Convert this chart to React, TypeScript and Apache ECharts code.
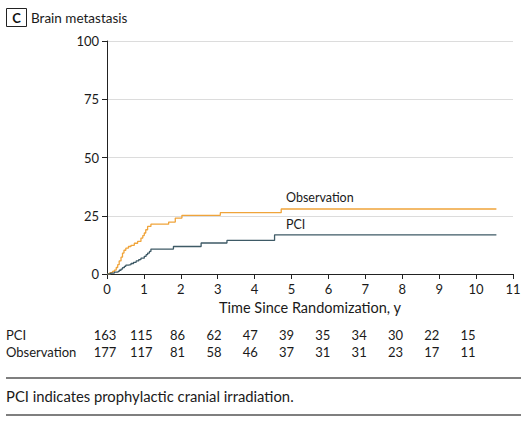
import React, { useEffect, useRef } from "react";
import * as echarts from "echarts";

const xTicks = [0, 1, 2, 3, 4, 5, 6, 7, 8, 9, 10, 11];
const obsT = [0, 0.08, 0.15, 0.2, 0.25, 0.29, 0.33, 0.38, 0.42, 0.46, 0.51, 0.58, 0.65, 0.74, 0.83, 0.92, 0.97, 1.01, 1.05, 1.1, 1.19, 1.67, 1.85, 2.03, 3.07, 4.72, 10.55];
const obsV = [0, 0.6, 1.1, 1.7, 2.8, 4.0, 5.6, 7.2, 9.0, 10.2, 11.1, 11.8, 12.3, 13.2, 14.0, 15.4, 16.5, 17.6, 19.0, 20.4, 21.4, 22.3, 24.0, 25.2, 26.3, 27.9, 27.9];
const pciT = [0, 0.1, 0.2, 0.28, 0.33, 0.38, 0.42, 0.47, 0.51, 0.58, 0.65, 0.72, 0.79, 0.86, 0.92, 1.01, 1.06, 1.1, 1.15, 1.19, 1.8, 2.55, 3.25, 4.54, 10.55];
const pciV = [0, 0.4, 0.8, 1.1, 1.6, 2.1, 2.7, 3.3, 3.8, 4.0, 4.5, 5.0, 5.6, 6.2, 6.8, 7.6, 8.3, 9.0, 9.7, 10.7, 11.8, 13.3, 14.4, 16.8, 16.8];
const riskTimes = [0, 1, 2, 3, 4, 5, 6, 7, 8, 9, 10];
const riskPCI = [163, 115, 86, 62, 47, 39, 35, 34, 30, 22, 15];
const riskObs = [177, 117, 81, 58, 46, 37, 31, 31, 23, 17, 11];
const seriesNames = ["Observation", "PCI"];
const title = "Brain metastasis";
const panel = "C";
const xName = "Time Since Randomization, y";
const footnote = "PCI indicates prophylactic cranial irradiation.";

const FONT = "Lato, 'Open Sans', sans-serif";
const OBS_COLOR = "#f0a43a";
const PCI_COLOR = "#3e5a66";
const TEXT = "#1a1a1a";

export default function App() {
  const ref = useRef<HTMLDivElement>(null);
  useEffect(() => {
    document.body.style.margin = "0";
    const chart = echarts.init(ref.current!, null, { renderer: "svg" });
    chart.setOption({
      animation: false,
      textStyle: { fontFamily: FONT },
      grid: { left: 107, right: 18, top: 41, bottom: 156 },
      xAxis: {
        type: "value",
        min: 0,
        max: 11,
        interval: 1,
        name: xName,
        nameLocation: "middle",
        nameGap: 26,
        nameTextStyle: { fontSize: 14.5, color: TEXT, fontFamily: FONT },
        axisLine: { lineStyle: { color: "#222", width: 1 } },
        axisTick: { length: 5, lineStyle: { color: "#222" } },
        axisLabel: { fontSize: 13, color: TEXT, margin: 8, fontFamily: FONT },
        splitLine: { show: false },
      },
      yAxis: {
        type: "value",
        min: 0,
        max: 100,
        interval: 25,
        axisLine: { show: true, lineStyle: { color: "#222", width: 1 } },
        axisTick: { show: true, length: 5, lineStyle: { color: "#222" } },
        axisLabel: { fontSize: 13, color: TEXT, margin: 8, fontFamily: FONT },
        splitLine: { show: true, lineStyle: { color: "#dcdcdc", width: 1 } },
      },
      series: [
        {
          name: seriesNames[0],
          type: "line",
          step: "end",
          symbol: "none",
          lineStyle: { color: OBS_COLOR, width: 1.3 },
          data: obsT.map((t, i) => [t, obsV[i]]),
          z: 3,
        },
        {
          name: seriesNames[1],
          type: "line",
          step: "end",
          symbol: "none",
          lineStyle: { color: PCI_COLOR, width: 1.3 },
          data: pciT.map((t, i) => [t, pciV[i]]),
          z: 3,
        },
      ],
    });

    const px = (x: number, y: number) => chart.convertToPixel({ gridIndex: 0 }, [x, y]) as number[];
    const graphic: any[] = [];
    graphic.push({
      type: "rect",
      shape: { x: 6.5, y: 8.5, width: 20, height: 18 },
      style: { fill: "#fff", stroke: "#222", lineWidth: 1 },
    });
    graphic.push({
      type: "text",
      x: 16.5,
      y: 18,
      style: { text: panel, font: `bold 13px ${FONT}`, fill: "#111", align: "center", verticalAlign: "middle" },
    });
    graphic.push({
      type: "text",
      x: 31,
      y: 17.5,
      style: { text: title, font: `13.5px ${FONT}`, fill: TEXT, align: "left", verticalAlign: "middle" },
    });
    const obsLab = px(4.85, 32.7);
    const pciLab = px(4.85, 21.1);
    graphic.push({
      type: "text",
      x: obsLab[0],
      y: obsLab[1],
      style: { text: seriesNames[0], font: `12.5px ${FONT}`, fill: TEXT, align: "left", verticalAlign: "middle" },
    });
    graphic.push({
      type: "text",
      x: pciLab[0],
      y: pciLab[1],
      style: { text: seriesNames[1], font: `12.5px ${FONT}`, fill: TEXT, align: "left", verticalAlign: "middle" },
    });
    // risk table
    const rowY = [335, 352];
    const rows = [riskPCI, riskObs];
    const rowNames = ["PCI", "Observation"];
    rows.forEach((vals, r) => {
      graphic.push({
        type: "text",
        x: 6,
        y: rowY[r],
        style: { text: rowNames[r], font: `13px ${FONT}`, fill: TEXT, align: "left", verticalAlign: "middle" },
      });
      vals.forEach((v, i) => {
        const p = px(riskTimes[i], 0);
        graphic.push({
          type: "text",
          x: p[0] - 2 - i * 0.6,
          y: rowY[r],
          style: { text: String(v), font: `13px ${FONT}`, fill: TEXT, align: "center", verticalAlign: "middle" },
        });
      });
    });
    graphic.push({
      type: "line",
      shape: { x1: 6, y1: 378, x2: 521, y2: 378 },
      style: { stroke: "#555", lineWidth: 1.5 },
    });
    graphic.push({
      type: "text",
      x: 6,
      y: 396,
      style: { text: footnote, font: `14.8px ${FONT}`, fill: TEXT, align: "left", verticalAlign: "middle" },
    });
    graphic.push({
      type: "line",
      shape: { x1: 6, y1: 415, x2: 521, y2: 415 },
      style: { stroke: "#555", lineWidth: 1.5 },
    });
    chart.setOption({ graphic });
    return () => chart.dispose();
  }, []);
  return <div ref={ref} style={{ width: 531, height: 430 }} />;
}
